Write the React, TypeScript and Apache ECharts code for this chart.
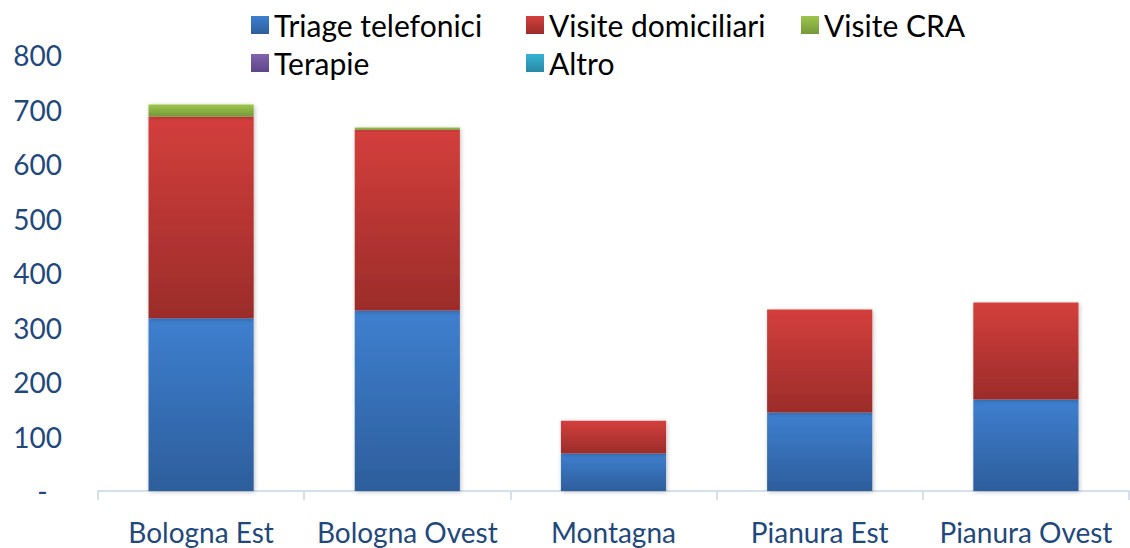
import React, { useEffect, useRef } from "react";
import * as echarts from "echarts";

const categories = ["Bologna Est", "Bologna Ovest", "Montagna", "Pianura Est", "Pianura Ovest"];
const triage = [317, 331, 69, 144, 168];
const visiteDomiciliari = [370, 332, 60, 189, 178];
const visiteCRA = [22, 4, 0, 0, 0];
const terapie = [0, 0, 0, 0, 0];
const altro = [0, 0, 0, 0, 0];

const seriesNames = ["Triage telefonici", "Visite domiciliari", "Visite CRA", "Terapie", "Altro"];
const seriesData = [triage, visiteDomiciliari, visiteCRA, terapie, altro];
const gradients: [string, string][] = [
  ["#3E7FCF", "#2D5E9C"],
  ["#D33F3C", "#9B2C2A"],
  ["#9DC64B", "#76983A"],
  ["#8062B0", "#5E4585"],
  ["#37B3D5", "#2788A2"],
];

const legendPos = [
  { left: 251, top: 8 },
  { left: 526, top: 8 },
  { left: 801, top: 8 },
  { left: 251, top: 46 },
  { left: 526, top: 46 },
];

const FONT = "Lato, 'Open Sans', sans-serif";

export default function App() {
  const ref = useRef<HTMLDivElement>(null);
  useEffect(() => {
    if (!ref.current) return;
    const chart = echarts.init(ref.current, null, { renderer: "svg" });
    const grad = (i: number) =>
      new echarts.graphic.LinearGradient(0, 0, 0, 1, [
        { offset: 0, color: gradients[i][0] },
        { offset: 1, color: gradients[i][1] },
      ]);
    chart.setOption({
      animation: false,
      backgroundColor: "#ffffff",
      legend: seriesNames.map((n, i) => ({
        data: [{ name: n, itemStyle: { color: grad(i) } }],
        left: legendPos[i].left,
        top: legendPos[i].top,
        padding: 0,
        itemWidth: 18,
        itemHeight: 18,
        icon: "rect",
        textStyle: { fontFamily: FONT, fontSize: 30, color: "#000000", lineHeight: 34 },
      })),
      grid: { left: 98, right: 1, top: 55, bottom: 57, containLabel: false },
      xAxis: {
        type: "category",
        data: categories,
        axisLine: { show: true, lineStyle: { color: "#D6DFEE", width: 2 } },
        axisTick: { show: true, interval: 0, length: 9, lineStyle: { color: "#D6DFEE", width: 2 } },
        axisLabel: { interval: 0, fontFamily: FONT, fontSize: 28, color: "#1F497D", margin: 27 },
      },
      yAxis: {
        type: "value",
        min: 0,
        max: 800,
        interval: 100,
        axisLine: { show: false },
        axisTick: { show: false },
        splitLine: { show: false },
        axisLabel: {
          fontFamily: FONT,
          fontSize: 28,
          color: "#1F497D",
          margin: 36,
          formatter: (v: number) => (v === 0 ? "-  " : String(v)),
        },
      },
      series: seriesNames.map((n, i) => ({
        name: n,
        type: "bar",
        stack: "total",
        barWidth: "51%",
        data: seriesData[i],
        itemStyle: {
          color: grad(i),
          shadowBlur: 4,
          shadowColor: "rgba(0,0,0,0.25)",
          shadowOffsetX: 1,
          shadowOffsetY: 1,
        },
      })),
    });
    return () => chart.dispose();
  }, []);
  return <div ref={ref} style={{ width: 1130, height: 548, position: "absolute", left: 0, top: 0 }} />;
}
